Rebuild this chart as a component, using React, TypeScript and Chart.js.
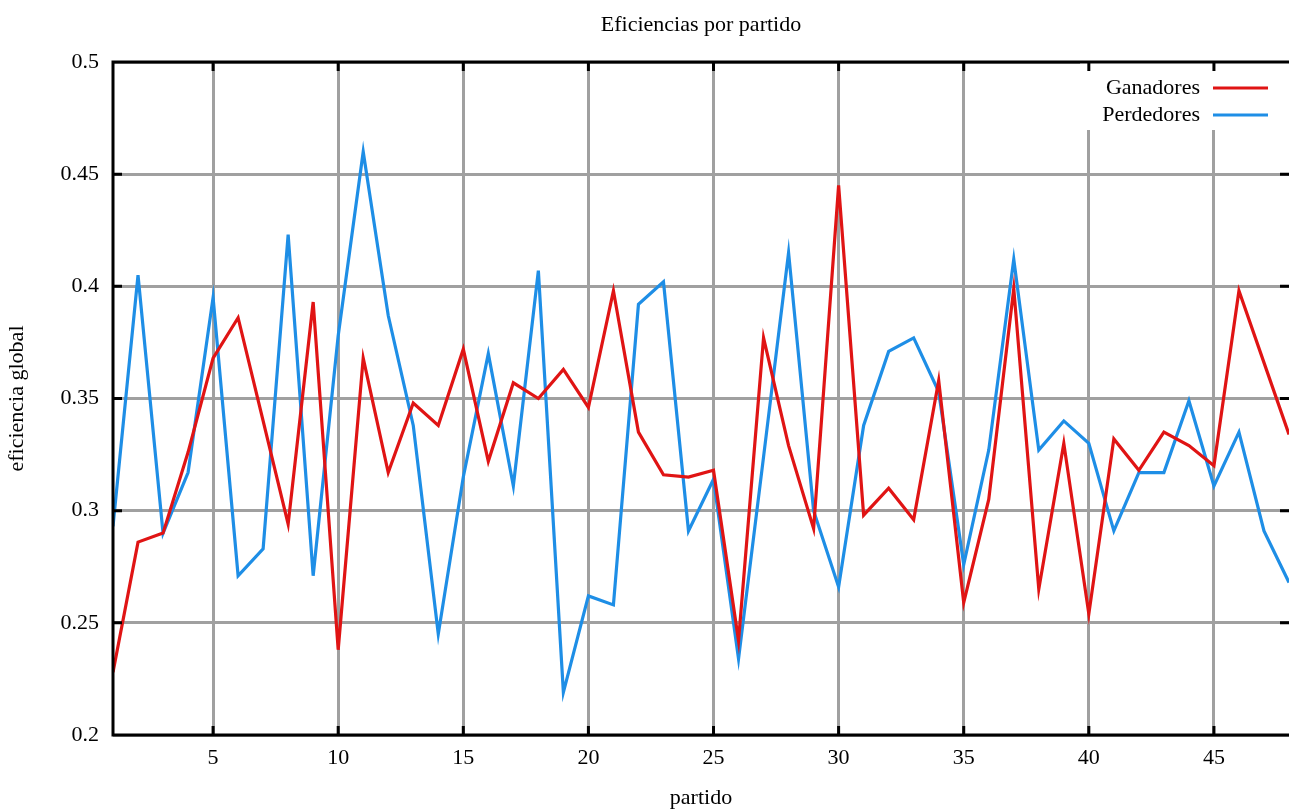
import React, { useEffect, useRef } from "react";
import { Chart, registerables } from "chart.js";

Chart.register(...registerables);

const partidos = [1, 2, 3, 4, 5, 6, 7, 8, 9, 10, 11, 12, 13, 14, 15, 16, 17, 18, 19, 20, 21, 22, 23, 24, 25, 26, 27, 28, 29, 30, 31, 32, 33, 34, 35, 36, 37, 38, 39, 40, 41, 42, 43, 44, 45, 46, 47, 48];

const ganadores = [0.228, 0.286, 0.29, 0.326, 0.368, 0.386, 0.34, 0.294, 0.393, 0.238, 0.368, 0.317, 0.348, 0.338, 0.372, 0.322, 0.357, 0.35, 0.363, 0.346, 0.398, 0.335, 0.316, 0.315, 0.318, 0.242, 0.377, 0.329, 0.292, 0.445, 0.298, 0.31, 0.296, 0.358, 0.259, 0.305, 0.399, 0.265, 0.33, 0.254, 0.332, 0.318, 0.335, 0.329, 0.32, 0.398, 0.366, 0.334];

const perdedores = [0.293, 0.405, 0.29, 0.317, 0.395, 0.271, 0.283, 0.423, 0.271, 0.378, 0.46, 0.387, 0.338, 0.245, 0.315, 0.37, 0.311, 0.407, 0.219, 0.262, 0.258, 0.392, 0.402, 0.291, 0.314, 0.234, 0.324, 0.415, 0.3, 0.266, 0.338, 0.371, 0.377, 0.353, 0.276, 0.327, 0.412, 0.327, 0.34, 0.33, 0.291, 0.317, 0.317, 0.349, 0.311, 0.335, 0.291, 0.268];

const xTicks = [5, 10, 15, 20, 25, 30, 35, 40, 45];
const yTicks = [0.2, 0.25, 0.3, 0.35, 0.4, 0.45, 0.5];

const seriesNames = ["Ganadores", "Perdedores"];
const RED = "#e01414";
const BLUE = "#1e8ee6";
const FONT = "'Liberation Serif', 'DejaVu Serif', serif";
const FS = 22;

const framePlugin = {
  id: "frame",
  beforeDatasetsDraw(chart: any) {
    const { ctx, chartArea } = chart;
    ctx.save();
    ctx.fillStyle = "#ffffff";
    ctx.fillRect(chartArea.right - 209, chartArea.top, 209, 68);
    ctx.restore();
  },
  afterDraw(chart: any) {
    const { ctx, chartArea } = chart;
    const xs = chart.scales.x;
    const ys = chart.scales.y;
    ctx.save();
    ctx.strokeStyle = "#000";
    ctx.lineWidth = 3;
    ctx.lineCap = "butt";
    ctx.beginPath();
    ctx.moveTo(chartArea.right + 2, chartArea.top);
    ctx.lineTo(chartArea.left, chartArea.top);
    ctx.lineTo(chartArea.left, chartArea.bottom);
    ctx.lineTo(chartArea.right + 2, chartArea.bottom);
    ctx.stroke();
    const tl = 9;
    ctx.beginPath();
    xTicks.forEach((v) => {
      const px = xs.getPixelForValue(v);
      ctx.moveTo(px, chartArea.top);
      ctx.lineTo(px, chartArea.top + tl);
      ctx.moveTo(px, chartArea.bottom);
      ctx.lineTo(px, chartArea.bottom - tl);
    });
    yTicks.slice(1, -1).forEach((v) => {
      const py = ys.getPixelForValue(v);
      ctx.moveTo(chartArea.left, py);
      ctx.lineTo(chartArea.left + tl, py);
      ctx.moveTo(chartArea.right, py);
      ctx.lineTo(chartArea.right - tl, py);
    });
    ctx.stroke();

    ctx.font = FS + "px " + FONT;
    ctx.fillStyle = "#000";
    ctx.textAlign = "right";
    ctx.textBaseline = "middle";
    const colors = [RED, BLUE];
    seriesNames.forEach((name, i) => {
      const y = chartArea.top + 26 + i * 27;
      ctx.fillText(name, chartArea.right - 89, y);
      ctx.strokeStyle = colors[i];
      ctx.lineWidth = 3;
      ctx.beginPath();
      ctx.moveTo(chartArea.right - 76, y);
      ctx.lineTo(chartArea.right - 21, y);
      ctx.stroke();
    });
    ctx.restore();
  },
};

export default function App() {
  const ref = useRef<HTMLCanvasElement | null>(null);

  useEffect(() => {
    if (!ref.current) return;
    Chart.defaults.font.family = FONT;
    Chart.defaults.color = "#000";
    const chart = new Chart(ref.current, {
      type: "line",
      data: {
        datasets: [
          {
            label: seriesNames[0],
            data: partidos.map((p, i) => ({ x: p, y: ganadores[i] })),
            borderColor: RED,
            backgroundColor: RED,
            borderWidth: 3.2,
            pointRadius: 0,
            tension: 0,
          },
          {
            label: seriesNames[1],
            data: partidos.map((p, i) => ({ x: p, y: perdedores[i] })),
            borderColor: BLUE,
            backgroundColor: BLUE,
            borderWidth: 3.2,
            pointRadius: 0,
            tension: 0,
          },
        ],
      },
      options: {
        responsive: false,
        animation: false,
        devicePixelRatio: 1,
        layout: { padding: { left: 0, right: 0, top: 0, bottom: 0 } },
        plugins: {
          legend: { display: false },
          tooltip: { enabled: false },
          title: {
            display: true,
            fullSize: false,
            text: "Eficiencias por partido",
            color: "#000",
            font: { family: FONT, size: FS, weight: "normal" },
            padding: { top: 12, bottom: 23.6 },
          },
        },
        scales: {
          x: {
            type: "linear",
            min: 1,
            max: 48,
            afterBuildTicks: (s: any) => {
              s.ticks = xTicks.map((v) => ({ value: v }));
            },
            afterFit: (s: any) => {
              s.height = 76;
            },
            grid: { color: "#a0a0a0", lineWidth: 3, drawTicks: false },
            border: { display: false },
            ticks: {
              padding: 10,
              color: "#000",
              font: { family: FONT, size: FS },
              maxRotation: 0,
              autoSkip: false,
            },
            title: {
              display: true,
              text: "partido",
              color: "#000",
              font: { family: FONT, size: FS },
              padding: { top: 0, bottom: 0 },
            },
          },
          y: {
            type: "linear",
            min: 0.2,
            max: 0.5,
            afterBuildTicks: (s: any) => {
              s.ticks = yTicks.map((v) => ({ value: v }));
            },
            afterFit: (s: any) => {
              s.width = 113;
            },
            grid: { color: "#a0a0a0", lineWidth: 3, drawTicks: false },
            border: { display: false },
            ticks: {
              padding: 14,
              color: "#000",
              font: { family: FONT, size: FS },
              callback: (v: any) => String(v),
              autoSkip: false,
            },
            title: {
              display: true,
              text: "eficiencia global",
              color: "#000",
              font: { family: FONT, size: FS },
              padding: { top: 4, bottom: 0 },
            },
          },
        },
      },
      plugins: [framePlugin],
    } as any);
    return () => chart.destroy();
  }, []);

  return (
    <div
      style={{
        position: "fixed",
        left: 0,
        top: 0,
        width: 1289,
        height: 811,
        background: "#fff",
        overflow: "hidden",
      }}
    >
      <canvas ref={ref} width={1289} height={811} style={{ width: 1289, height: 811, display: "block" }} />
    </div>
  );
}
